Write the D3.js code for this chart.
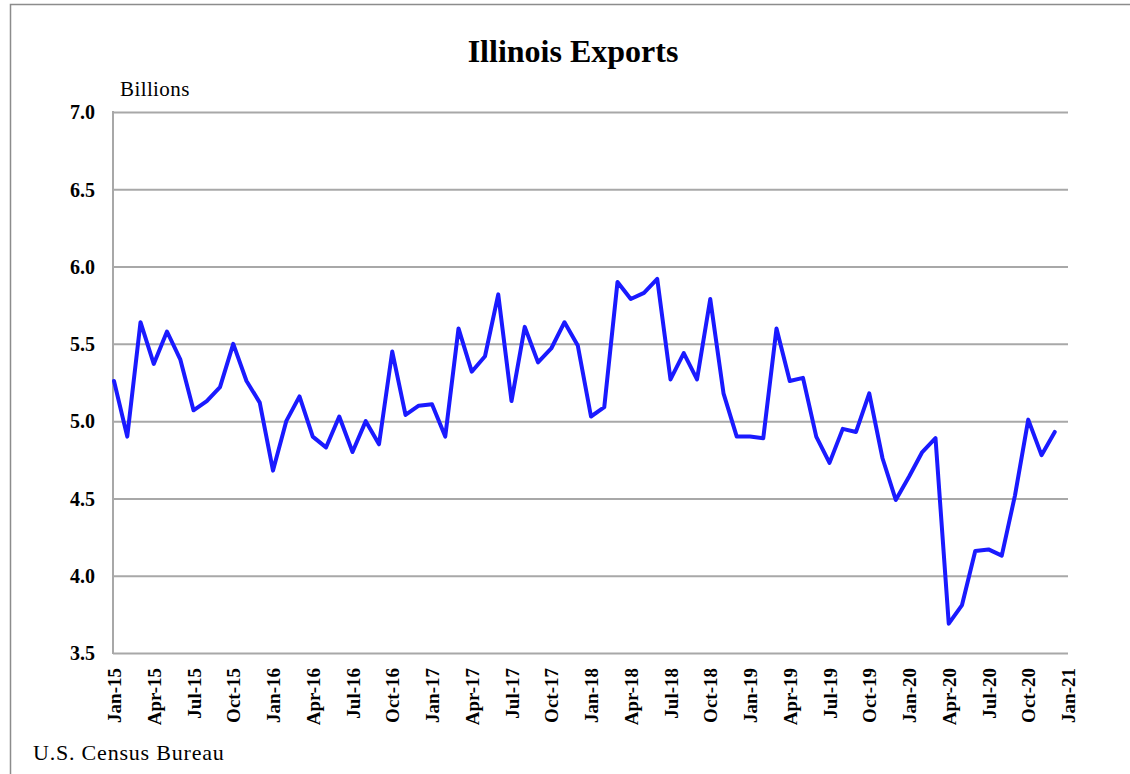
<!DOCTYPE html>
<html>
<head>
<meta charset="utf-8">
<script src="https://cdn.jsdelivr.net/npm/d3@7"></script>
<style>
  html, body { margin: 0; padding: 0; background: #fff; }
  svg { display: block; }
  text { font-family: "Liberation Serif", "Times New Roman", serif; fill: #000; }
</style>
</head>
<body>
<svg id="chart" width="1130" height="774"></svg>
<script>
// Monthly Illinois exports, billions of dollars, Jan 2015 – Dec 2020
const exportsBillions = [
  5.26, 4.90, 5.64, 5.37, 5.58, 5.40, 5.07, 5.13, 5.22, 5.50, 5.26, 5.12,
  4.68, 5.00, 5.16, 4.90, 4.83, 5.03, 4.80, 5.00, 4.85, 5.45, 5.04, 5.10,
  5.11, 4.90, 5.60, 5.32, 5.42, 5.82, 5.13, 5.61, 5.38, 5.47, 5.64, 5.49,
  5.03, 5.09, 5.90, 5.79, 5.83, 5.92, 5.27, 5.44, 5.27, 5.79, 5.18, 4.90,
  4.90, 4.89, 5.60, 5.26, 5.28, 4.90, 4.73, 4.95, 4.93, 5.18, 4.76, 4.49,
  4.64, 4.80, 4.89, 3.69, 3.81, 4.16, 4.17, 4.13, 4.52, 5.01, 4.78, 4.93
];

// Axis labels, one every third month (Jan-15 … Jan-21)
const xTickLabels = [
  "Jan-15", "Apr-15", "Jul-15", "Oct-15",
  "Jan-16", "Apr-16", "Jul-16", "Oct-16",
  "Jan-17", "Apr-17", "Jul-17", "Oct-17",
  "Jan-18", "Apr-18", "Jul-18", "Oct-18",
  "Jan-19", "Apr-19", "Jul-19", "Oct-19",
  "Jan-20", "Apr-20", "Jul-20", "Oct-20",
  "Jan-21"
];
const yTickValues = [3.5, 4.0, 4.5, 5.0, 5.5, 6.0, 6.5, 7.0];

const svg = d3.select("#chart");
const plot = { left: 113, top: 112, right: 1068, bottom: 653 };

// outer frame
svg.append("rect")
  .attr("x", 10.5).attr("y", 4.5)
  .attr("width", 1140).attr("height", 800)
  .attr("fill", "none")
  .attr("stroke", "#8c8c8c")
  .attr("stroke-width", 1.5);

const x = d3.scaleLinear()
  .domain([0, (xTickLabels.length - 1) * 3])
  .range([plot.left + 1, plot.right]);
const y = d3.scaleLinear()
  .domain([3.5, 7.0])
  .range([plot.bottom, plot.top]);

// horizontal gridlines
const yAxis = d3.axisLeft(y)
  .tickValues(yTickValues)
  .tickSize(-(plot.right - plot.left))
  .tickPadding(18)
  .tickFormat(d3.format(".1f"));
const gy = svg.append("g")
  .attr("transform", `translate(${plot.left},0)`)
  .call(yAxis);
gy.select(".domain").remove();
gy.selectAll(".tick line")
  .attr("stroke", "#a8a8a8")
  .attr("stroke-width", 2);
gy.selectAll(".tick text")
  .attr("font-size", 20)
  .attr("font-weight", "bold")
  .attr("font-family", "Liberation Serif, serif")
  .attr("dy", "0.34em");

// left axis line
svg.append("line")
  .attr("x1", plot.left).attr("x2", plot.left)
  .attr("y1", plot.top - 1).attr("y2", plot.bottom + 1)
  .attr("stroke", "#a8a8a8")
  .attr("stroke-width", 2);

// category labels along the bottom
const xAxis = d3.axisBottom(x)
  .tickValues(xTickLabels.map((_, i) => i * 3))
  .tickSize(0)
  .tickFormat((d, i) => xTickLabels[i]);
const gx = svg.append("g")
  .attr("transform", `translate(0,${plot.bottom})`)
  .call(xAxis);
gx.select(".domain").remove();
gx.selectAll(".tick text")
  .attr("font-size", 19)
  .attr("font-weight", "bold")
  .attr("font-family", "Liberation Serif, serif")
  .attr("text-anchor", "end")
  .attr("transform", "rotate(-90)")
  .attr("x", -15)
  .attr("y", 0)
  .attr("dy", "0.35em");

// export line
const line = d3.line()
  .x((d, i) => x(i))
  .y(d => y(d));
svg.append("path")
  .datum(exportsBillions)
  .attr("d", line)
  .attr("fill", "none")
  .attr("stroke", "#1a1aff")
  .attr("stroke-width", 4)
  .attr("stroke-linejoin", "round")
  .attr("stroke-linecap", "round");

// title and annotations
svg.append("text")
  .attr("x", 573).attr("y", 62)
  .attr("text-anchor", "middle")
  .attr("font-size", 32)
  .attr("font-weight", "bold")
  .attr("font-family", "Liberation Serif, serif")
  .text("Illinois Exports");

svg.append("text")
  .attr("x", 120).attr("y", 96)
  .attr("font-size", 21)
  .attr("font-family", "Liberation Serif, serif")
  .attr("letter-spacing", 0.4)
  .text("Billions");

svg.append("text")
  .attr("x", 33).attr("y", 760)
  .attr("font-size", 22)
  .attr("font-family", "Liberation Serif, serif")
  .attr("letter-spacing", 0.8)
  .text("U.S. Census Bureau");
</script>
</body>
</html>
